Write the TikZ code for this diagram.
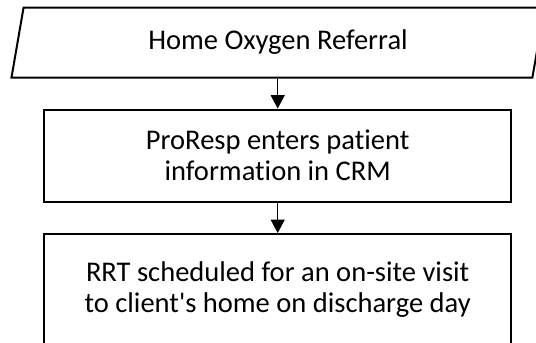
\documentclass[tikz,border=0pt]{standalone}
\usepackage{fontspec}
\setmainfont{Carlito}[Ligatures={NoCommon}]
\usetikzlibrary{shapes.geometric, arrows.meta}

\begin{document}
\begin{tikzpicture}[x=0.75pt, y=-0.75pt,
    stepbox/.style={draw, line width=1.5pt, align=center, inner sep=0pt,
      minimum width=350.25pt, font=\fontsize{21.4pt}{23.3pt}\selectfont},
    inputbox/.style={stepbox, trapezium, trapezium stretches=true,
      trapezium left angle=76, trapezium right angle=104,
      minimum width=400.5pt, minimum height=52.5pt},
    flowarrow/.style={line width=0.75pt, -{Triangle[width=10.5pt, length=10pt]}}]
  % page size, the last box runs off the bottom
  \useasboundingbox (0, 0) rectangle (536, 343);
  \clip (0, 0) rectangle (536, 343);
  \fill [white] (0, 0) rectangle (536, 343);
  % flow steps
  \node [inputbox] (referral) at (278, 42.5) {Home Oxygen Referral};
  \node [stepbox, minimum height=69pt] (crm) at (277.7, 155.5)
    {ProResp enters patient\\information in CRM};
  \node [stepbox, minimum height=84pt] (visit) at (277.7, 290)
    {RRT scheduled for an on-site visit\\to client\textquotesingle s home on discharge day};
  % arrows
  \draw [flowarrow] (referral.south -| crm.north) -- (crm.north);
  \draw [flowarrow] (crm.south) -- (visit.north);
\end{tikzpicture}
\end{document}
